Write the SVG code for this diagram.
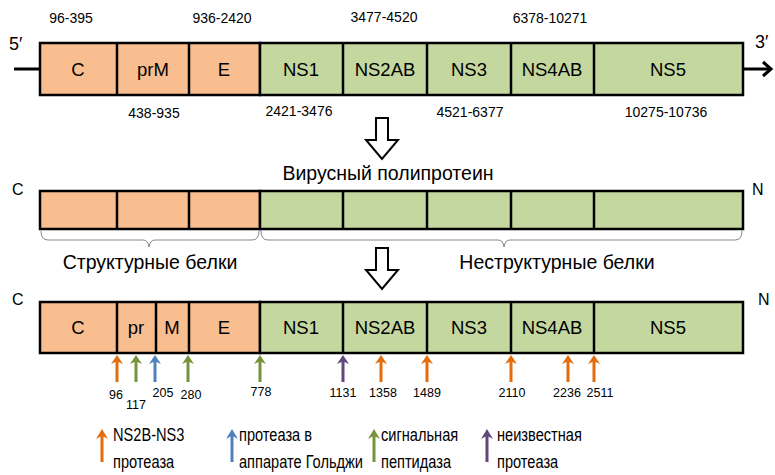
<svg xmlns="http://www.w3.org/2000/svg" width="775" height="475" viewBox="0 0 775 475">
<style>
.s{fill:#F9BE8F;stroke:#000;stroke-width:2.5}
.n{fill:#C4D79F;stroke:#000;stroke-width:2.5}
.dv{stroke:#000;stroke-width:2.5}
.t{font-family:"Liberation Sans",Arial,sans-serif;fill:#000}
.bl{font-size:18.5px;text-anchor:middle}
.co{font-size:14px;text-anchor:middle}
.lb{font-size:19.5px}
.num{font-size:12.5px;text-anchor:middle}
.lg{font-size:18.5px}
.hol{fill:#fff;stroke:#000;stroke-width:2}
.br{fill:none;stroke:#888;stroke-width:1}
</style>
<defs>
<g id="ar"><path d="M0,0 L-6,9 L-1.5,7 L-1.5,27 L1.5,27 L1.5,7 L6,9 Z"/></g>
<g id="la"><path d="M0,0 L-6,10 L-1.5,7.5 L-1.5,33 L1.5,33 L1.5,7.5 L6,10 Z"/></g>
</defs>

<g id="genome">
<line x1="14" y1="69" x2="40" y2="69" stroke="#000" stroke-width="3"/>
<line x1="743" y1="69" x2="770" y2="69" stroke="#000" stroke-width="3"/>
<path d="M763,62 L771,69 L763,76" fill="none" stroke="#000" stroke-width="3"/>
<text class="t" x="9" y="50" font-size="18">5′</text>
<text class="t" x="755" y="48" font-size="18">3′</text>
<rect class="s" x="40" y="43" width="220" height="52"/>
<rect class="n" x="260" y="43" width="483" height="52"/>
<line class="dv" x1="117" y1="43" x2="117" y2="95"/>
<line class="dv" x1="189" y1="43" x2="189" y2="95"/>
<line class="dv" x1="343" y1="43" x2="343" y2="95"/>
<line class="dv" x1="427" y1="43" x2="427" y2="95"/>
<line class="dv" x1="511" y1="43" x2="511" y2="95"/>
<line class="dv" x1="594" y1="43" x2="594" y2="95"/>
<text class="t bl" x="78" y="76">C</text>
<text class="t bl" x="153" y="76">prM</text>
<text class="t bl" x="224" y="76">E</text>
<text class="t bl" x="301" y="76">NS1</text>
<text class="t bl" x="385" y="76">NS2AB</text>
<text class="t bl" x="469" y="76">NS3</text>
<text class="t bl" x="552" y="76">NS4AB</text>
<text class="t bl" x="668" y="76">NS5</text>
<text class="t co" x="71" y="23">96-395</text>
<text class="t co" x="222" y="23">936-2420</text>
<text class="t co" x="384" y="22">3477-4520</text>
<text class="t co" x="550" y="23">6378-10271</text>
<text class="t co" x="154" y="118">438-935</text>
<text class="t co" x="299" y="116">2421-3476</text>
<text class="t co" x="470" y="117">4521-6377</text>
<text class="t co" x="666" y="117">10275-10736</text>
</g>

<g id="arrow1">
<path class="hol" d="M376,118 L388,118 L388,140 L398,140 L382,159 L366,140 L376,140 Z"/>
</g>

<g id="polyprotein">
<text class="t lb" x="388" y="180" text-anchor="middle">Вирусный полипротеин</text>
<text class="t" x="12" y="195" font-size="16">C</text>
<text class="t" x="752" y="195" font-size="16">N</text>
<rect class="s" x="40" y="191" width="220" height="38"/>
<rect class="n" x="260" y="191" width="483" height="38"/>
<line class="dv" x1="117" y1="191" x2="117" y2="229"/>
<line class="dv" x1="189" y1="191" x2="189" y2="229"/>
<line class="dv" x1="343" y1="191" x2="343" y2="229"/>
<line class="dv" x1="427" y1="191" x2="427" y2="229"/>
<line class="dv" x1="511" y1="191" x2="511" y2="229"/>
<line class="dv" x1="594" y1="191" x2="594" y2="229"/>
<path class="br" d="M41,231 Q41,240 48,240 L143,240 Q148,240 149,247 Q150,240 155,240 L252,240 Q259,240 259,231"/>
<path class="br" d="M261,231 Q261,240 268,240 L498,240 Q503,240 504,247 Q505,240 510,240 L735,240 Q742,240 742,231"/>
<text class="t lb" x="150" y="269" text-anchor="middle">Структурные белки</text>
<text class="t lb" x="557" y="269" text-anchor="middle">Неструктурные белки</text>
</g>

<g id="arrow2">
<path class="hol" d="M376,248 L388,248 L388,270 L398,270 L382,289 L366,270 L376,270 Z"/>
</g>

<g id="cleaved">
<text class="t" x="12" y="305" font-size="16">C</text>
<text class="t" x="758" y="305" font-size="16">N</text>
<rect class="s" x="40" y="302" width="220" height="51"/>
<rect class="n" x="260" y="302" width="483" height="51"/>
<line class="dv" x1="117" y1="302" x2="117" y2="353"/>
<line class="dv" x1="156" y1="302" x2="156" y2="353"/>
<line class="dv" x1="189" y1="302" x2="189" y2="353"/>
<line class="dv" x1="343" y1="302" x2="343" y2="353"/>
<line class="dv" x1="427" y1="302" x2="427" y2="353"/>
<line class="dv" x1="511" y1="302" x2="511" y2="353"/>
<line class="dv" x1="594" y1="302" x2="594" y2="353"/>
<text class="t bl" x="78" y="334">C</text>
<text class="t bl" x="136" y="334">pr</text>
<text class="t bl" x="172" y="334">M</text>
<text class="t bl" x="224" y="334">E</text>
<text class="t bl" x="301" y="334">NS1</text>
<text class="t bl" x="385" y="334">NS2AB</text>
<text class="t bl" x="469" y="334">NS3</text>
<text class="t bl" x="552" y="334">NS4AB</text>
<text class="t bl" x="668" y="334">NS5</text>
</g>

<g id="cleavage-sites">
<use href="#ar" x="117" y="355" fill="#E46C0A"/>
<use href="#ar" x="136" y="355" fill="#77933C"/>
<use href="#ar" x="155" y="355" fill="#4F81BD"/>
<use href="#ar" x="188" y="355" fill="#77933C"/>
<use href="#ar" x="260" y="355" fill="#77933C"/>
<use href="#ar" x="343" y="355" fill="#5F497A"/>
<use href="#ar" x="381" y="355" fill="#E46C0A"/>
<use href="#ar" x="427" y="355" fill="#E46C0A"/>
<use href="#ar" x="511" y="355" fill="#E46C0A"/>
<use href="#ar" x="568" y="355" fill="#E46C0A"/>
<use href="#ar" x="594" y="355" fill="#E46C0A"/>
<text class="t num" x="116" y="399">96</text>
<text class="t num" x="136" y="409">117</text>
<text class="t num" x="163" y="397">205</text>
<text class="t num" x="191" y="399">280</text>
<text class="t num" x="261" y="396">778</text>
<text class="t num" x="343" y="397">1131</text>
<text class="t num" x="383" y="397">1358</text>
<text class="t num" x="427" y="397">1489</text>
<text class="t num" x="512" y="397">2110</text>
<text class="t num" x="567" y="397">2236</text>
<text class="t num" x="600" y="397">2511</text>
</g>

<g id="legend">
<use href="#la" x="102" y="429" fill="#E46C0A"/>
<text class="t lg" transform="translate(113,441) scale(0.79,1)">NS2B-NS3</text>
<text class="t lg" transform="translate(113,468) scale(0.79,1)">протеаза</text>
<use href="#la" x="232" y="429" fill="#4F81BD"/>
<text class="t lg" transform="translate(239,441) scale(0.79,1)">протеаза в</text>
<text class="t lg" transform="translate(239,468) scale(0.79,1)">аппарате Гольджи</text>
<use href="#la" x="374" y="429" fill="#77933C"/>
<text class="t lg" transform="translate(381,441) scale(0.79,1)">сигнальная</text>
<text class="t lg" transform="translate(381,468) scale(0.79,1)">пептидаза</text>
<use href="#la" x="487" y="429" fill="#5F497A"/>
<text class="t lg" transform="translate(497,441) scale(0.79,1)">неизвестная</text>
<text class="t lg" transform="translate(497,468) scale(0.79,1)">протеаза</text>
</g>
</svg>
